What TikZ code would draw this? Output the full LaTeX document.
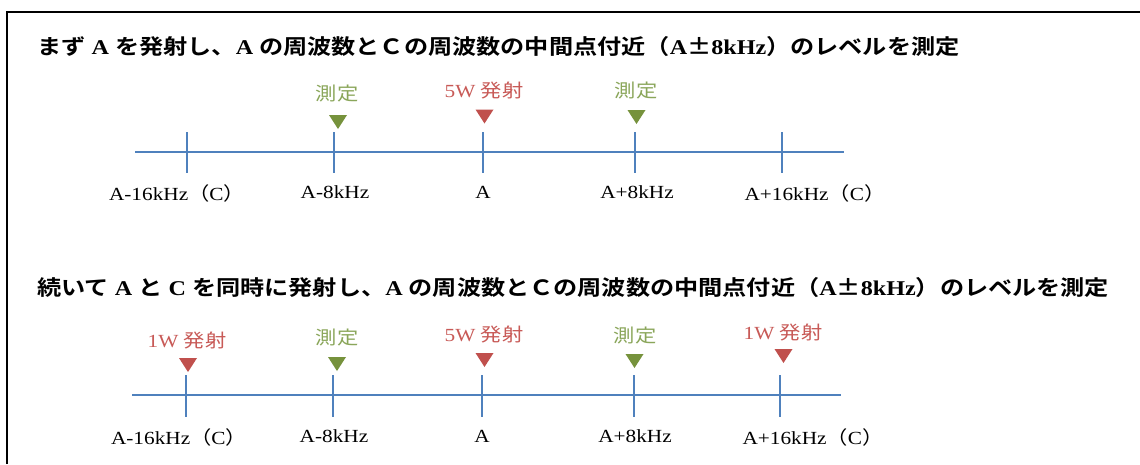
\documentclass[tikz,border=0pt]{standalone}
\usepackage{fontspec}
\setmainfont{Liberation Serif}[FakeStretch=1.15]
\newfontfamily\jpsans{Noto Sans CJK JP}[FakeStretch=1.15,BoldFont={Noto Sans CJK JP Bold}]
\usetikzlibrary{positioning}
\definecolor{axisblue}{HTML}{4F81BD}
\definecolor{olive}{HTML}{76923C}
\definecolor{olivetxt}{HTML}{8AA65A}
\definecolor{brick}{HTML}{C0504D}
\definecolor{bricktxt}{HTML}{C85A57}
\newcommand\J[1]{{\jpsans #1}}
\newcommand\B[1]{\textbf{#1}}
% downward marker: x, top y, colour
\newcommand\marker[3]{\fill[#3] (#1-9,#2) -- (#1+9,#2) -- (#1,#2+14) -- cycle;}

\begin{document}
\begin{tikzpicture}[x=1pt,y=-1pt,
    head/.style={anchor=west, inner sep=0pt, font=\fontsize{21}{24}\selectfont},
    freq/.style={inner sep=0pt, font=\fontsize{18.5}{21}\selectfont},
    note/.style={inner sep=0pt, font=\fontsize{18.5}{21}\selectfont},
    axis/.style={draw=axisblue, line width=1.6pt}]
  \useasboundingbox (0,0) rectangle (1140,464);
  \fill[white] (0,0) rectangle (1140,464);
  % frame, open to the right and bottom
  \draw[line width=1.6pt] (7,464) -- (7,12) -- (1140,12);

  % --- first step
  \node[head] (head1) at (37,47) {\J{\bfseries まず}\B{ A }\J{\bfseries を発射し、}\B{A }\J{\bfseries の周波数とＣの周波数の中間点付近（}\B{A}\J{\bfseries ±}\B{8kHz}\J{\bfseries ）のレベルを測定}};
  \coordinate (ax1w) at (135,152);
  \coordinate (ax1e) at (844,152);
  \draw[axis] (ax1w) -- (ax1e);
  \foreach \x in {187,334,483,635,782}
    \draw[axis] (\x,132) -- (\x,173);
  \node[freq] (f11) at (177,193) {A-16kHz\J{（}C\J{）}};
  \node[freq] (f12) at (335,192) {A-8kHz};
  \node[freq] (f13) at (483,192) {A};
  \node[freq] (f14) at (637,192) {A+8kHz};
  \node[freq] (f15) at (815,193) {A+16kHz\J{（}C\J{）}};
  \marker{338}{115}{olive}
  \marker{484.5}{109.5}{brick}
  \marker{636.5}{110}{olive}
  \node[note, text=olivetxt] (m12) at (337,94) {\J{測定}};
  \node[note, text=bricktxt] (m13) at (484,91) {5W \J{発射}};
  \node[note, text=olivetxt] (m14) at (636,91) {\J{測定}};

  % --- second step
  \node[head] (head2) at (37,288) {\J{\bfseries 続いて}\B{ A }\J{\bfseries と}\B{ C }\J{\bfseries を同時に発射し、}\B{A }\J{\bfseries の周波数とＣの周波数の中間点付近（}\B{A}\J{\bfseries ±}\B{8kHz}\J{\bfseries ）のレベルを測定}};
  \coordinate (ax2w) at (132,395);
  \coordinate (ax2e) at (841,395);
  \draw[axis] (ax2w) -- (ax2e);
  \foreach \x in {186,333,482,634,780}
    \draw[axis] (\x,375) -- (\x,417);
  \node[freq] (f21) at (179,437) {A-16kHz\J{（}C\J{）}};
  \node[freq] (f22) at (334,436) {A-8kHz};
  \node[freq] (f23) at (482,436) {A};
  \node[freq] (f24) at (635,436) {A+8kHz};
  \node[freq] (f25) at (813,437) {A+16kHz\J{（}C\J{）}};
  \marker{188}{358}{brick}
  \marker{337}{357}{olive}
  \marker{484.5}{353}{brick}
  \marker{634.5}{354}{olive}
  \marker{783.5}{349}{brick}
  \node[note, text=bricktxt] (m21) at (187,340) {1W \J{発射}};
  \node[note, text=olivetxt] (m22) at (337,338) {\J{測定}};
  \node[note, text=bricktxt] (m23) at (484,334) {5W \J{発射}};
  \node[note, text=olivetxt] (m24) at (635,336) {\J{測定}};
  \node[note, text=bricktxt] (m25) at (783,332) {1W \J{発射}};
\end{tikzpicture}
\end{document}
